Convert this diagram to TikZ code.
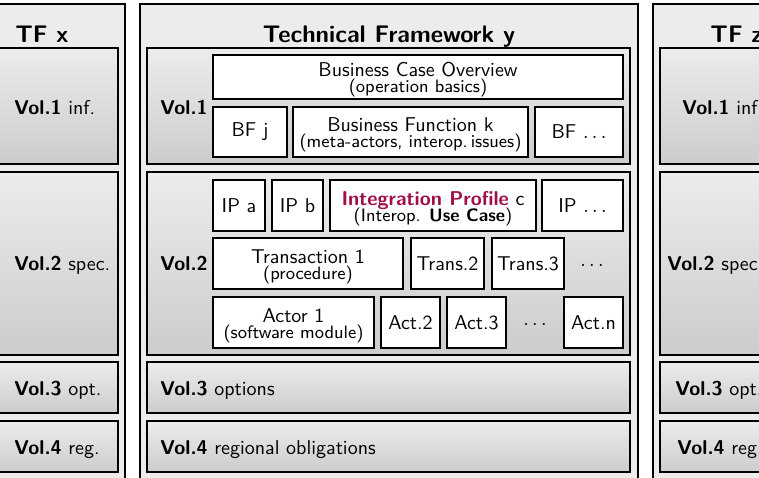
\documentclass[tikz,border=0pt]{standalone}
\definecolor{panelgray}{RGB}{236,236,236}
\definecolor{volTop}{RGB}{236,236,236}
\definecolor{volBot}{RGB}{204,204,204}
\definecolor{ipred}{RGB}{160,16,72}
\newcommand{\topstrut}{\rule{0pt}{10pt}}
\begin{document}
\begin{tikzpicture}[x=0.5pt,y=-0.5pt, font=\sffamily,
  panel/.style={draw=black, line width=0.8pt, fill=panelgray, rectangle, inner sep=0pt},
  vol/.style={draw=black, line width=0.8pt, top color=volTop, bottom color=volBot, rectangle, inner sep=0pt},
  wbox/.style={draw=black, line width=0.75pt, fill=white, rectangle, inner sep=0pt, align=center},
  lbl/.style={anchor=base west, inner sep=0pt},
  ttl/.style={inner sep=0pt, font=\sffamily\large\bfseries},
  dotsnode/.style={inner sep=0pt}
]
\useasboundingbox (0,0) rectangle (759,477);
\clip (0,0) rectangle (759,477);

% panels
\node[panel, minimum width=72.5pt, minimum height=248pt] (tfx) at (52.5,252) {};
\node[panel, minimum width=249pt, minimum height=248pt] (tfy) at (389,252) {};
\node[panel, minimum width=73.5pt, minimum height=248pt] (tfz) at (726.5,252) {};

% titles
\node[ttl, anchor=base west] (tx) at (15,42) {TF x};
\node[ttl, anchor=base] (ty) at (389,42) {Technical Framework y};
\node[ttl, anchor=base west] (tz) at (710,42) {TF z};

% left volumes
\node[vol, minimum width=69pt, minimum height=58pt] (v1x) at (49,106) {};
\node[vol, minimum width=69pt, minimum height=91.5pt] (v2x) at (49,263.5) {};
\node[vol, minimum width=69pt, minimum height=25.5pt] (v3x) at (49,387.5) {};
\node[vol, minimum width=69pt, minimum height=25.5pt] (v4x) at (49,446.5) {};
\node[lbl] (l1x) at (14,114) {\textbf{Vol.1} inf.};
\node[lbl] (l2x) at (14,270) {\textbf{Vol.2} spec.};
\node[lbl] (l3x) at (14,395) {\textbf{Vol.3} opt.};
\node[lbl] (l4x) at (14,454) {\textbf{Vol.4} reg.};

% right volumes
\node[vol, minimum width=70pt, minimum height=58pt] (v1z) at (730,106) {};
\node[vol, minimum width=70pt, minimum height=91.5pt] (v2z) at (730,263.5) {};
\node[vol, minimum width=70pt, minimum height=25.5pt] (v3z) at (730,387.5) {};
\node[vol, minimum width=70pt, minimum height=25.5pt] (v4z) at (730,446.5) {};
\node[lbl] (l1z) at (682,114) {\textbf{Vol.1} inf.};
\node[lbl] (l2z) at (667,270) {\textbf{Vol.2} spec.};
\node[lbl] (l3z) at (675,395) {\textbf{Vol.3} opt.};
\node[lbl] (l4z) at (677,454) {\textbf{Vol.4} reg.};

% centre volumes
\node[vol, minimum width=241.5pt, minimum height=58pt] (v1y) at (388.5,106) {};
\node[vol, minimum width=241.5pt, minimum height=91.5pt] (v2y) at (388.5,263.5) {};
\node[vol, minimum width=241.5pt, minimum height=25.5pt] (v3y) at (388.5,387.5) {};
\node[vol, minimum width=241.5pt, minimum height=25.5pt] (v4y) at (388.5,446.5) {};
\node[lbl] (l1y) at (160,114) {\textbf{Vol.1}};
\node[lbl] (l2y) at (160,270) {\textbf{Vol.2}};
\node[lbl] (l3y) at (160,395) {\textbf{Vol.3} options};
\node[lbl] (l4y) at (160,454) {\textbf{Vol.4} regional obligations};

% Vol.1 content
\node[wbox, minimum width=205pt, minimum height=22pt] (bco) at (418,77) {\topstrut Business Case Overview\\[-4pt]{\small(operation basics)}};
\node[wbox, minimum width=37pt, minimum height=25pt] (bfj) at (250,132) {BF j};
\node[wbox, minimum width=117.5pt, minimum height=25pt] (bfk) at (410.5,132) {\topstrut Business Function k\\[-4pt]{\small(meta-actors, interop.\,issues)}};
\node[wbox, minimum width=44pt, minimum height=25pt] (bfd) at (579,132) {BF $\ldots$};

% Vol.2 content
\node[wbox, minimum width=26pt, minimum height=25.5pt] (ipa) at (239,205.5) {IP a};
\node[wbox, minimum width=25.5pt, minimum height=25.5pt] (ipb) at (297.5,205.5) {IP b};
\node[wbox, minimum width=103pt, minimum height=25.5pt] (ipc) at (433,205.5) {\topstrut\textcolor{ipred}{\textbf{Integration Profile}} c\\[-4pt]{\small(Interop. \textbf{Use Case})}};
\node[wbox, minimum width=40.5pt, minimum height=25.5pt] (ipd) at (582.5,205.5) {IP $\ldots$};

\node[wbox, minimum width=95pt, minimum height=25.5pt] (t1) at (308,263.5) {\topstrut Transaction 1\\[-4pt]{\small(procedure)}};
\node[wbox, minimum width=36.5pt, minimum height=25.5pt] (t2) at (447.5,263.5) {Trans.2};
\node[wbox, minimum width=36pt, minimum height=25.5pt] (t3) at (528,263.5) {Trans.3};
\node[dotsnode] (td) at (592,265) {$\ldots$};

\node[wbox, minimum width=80.5pt, minimum height=25.5pt] (a1) at (293.5,322.5) {\topstrut Actor 1\\[-4pt]{\small(software module)}};
\node[wbox, minimum width=29.5pt, minimum height=25.5pt] (a2) at (410.5,322.5) {Act.2};
\node[wbox, minimum width=29.5pt, minimum height=25.5pt] (a3) at (476.5,322.5) {Act.3};
\node[dotsnode] (ad) at (535,324) {$\ldots$};
\node[wbox, minimum width=29.5pt, minimum height=25.5pt] (an) at (593.5,322.5) {Act.n};
\end{tikzpicture}
\end{document}
